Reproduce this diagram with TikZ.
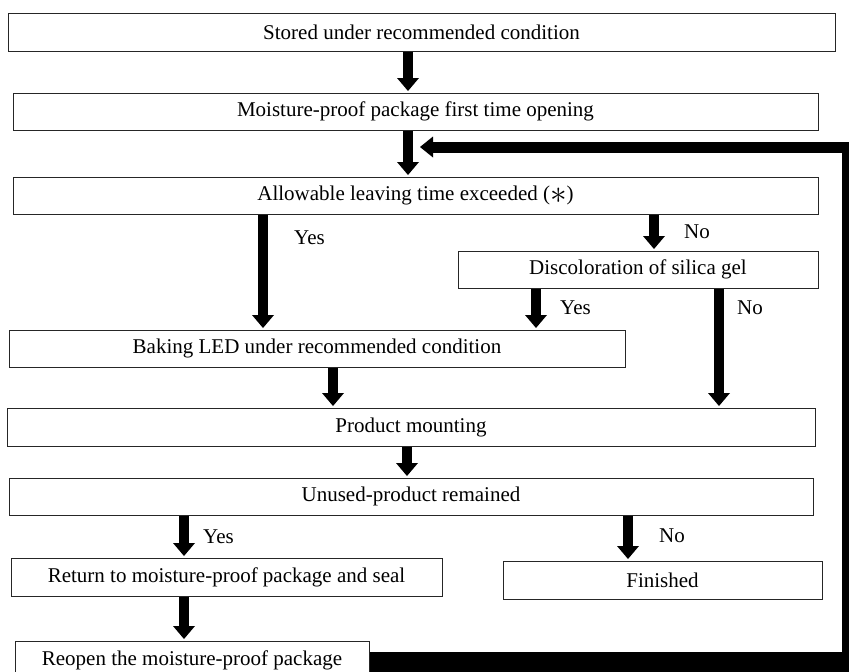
\documentclass[tikz,border=0pt]{standalone}
\usepackage{fontspec}
\setmainfont{Liberation Serif}
\usetikzlibrary{arrows.meta}
\begin{document}
\begin{tikzpicture}[x=1pt,y=-1pt,
  txt/.style={font=\fontsize{21}{25}\selectfont},
  box/.style={txt,draw=black!85,line width=1pt,rectangle,inner sep=0pt},
  lbl/.style={txt,inner sep=0pt,anchor=west},
  fat/.style={line width=10pt,-{Triangle[width=22pt,length=13pt,line width=0pt]},shorten >=1.5pt},
  loopbar/.style={line width=11pt},
]
\path[use as bounding box,clip] (0,0) rectangle (849,672);
\fill[white] (0,0) rectangle (849,672);

% boxes
\node[box,minimum width=827pt,minimum height=38pt] (stored) at (421.5,32) {Stored under recommended condition};
\node[box,minimum width=805pt,minimum height=37pt] (open) at (415.5,111.5) {Moisture-proof package first time opening};
\node[box,minimum width=805pt,minimum height=37pt] (allow) at (415.5,195.5) {Allowable leaving time exceeded (\raisebox{-0.12em}{\scalebox{1.6}{$\ast$}})};
\node[box,minimum width=360pt,minimum height=37pt] (disc) at (638,269.5) {Discoloration of silica gel};
\node[box,minimum width=616pt,minimum height=37pt] (bake) at (317,348.5) {Baking LED under recommended condition};
\node[box,minimum width=808pt,minimum height=38pt] (mount) at (411,427) {Product mounting};
\node[box,minimum width=804pt,minimum height=37pt] (unused) at (411,496.5) {Unused-product remained};
\node[box,minimum width=431pt,minimum height=38pt] (ret) at (226.5,577) {Return to moisture-proof package and seal};
\node[box,minimum width=319pt,minimum height=38pt] (fin) at (662.5,580) {Finished};
\node[box,minimum width=354pt,minimum height=38pt] (reopen) at (192,660) {Reopen the moisture-proof package};

% arrow x positions
\coordinate (xa) at (408,0);
\coordinate (xb) at (263,0);
\coordinate (xc) at (654,0);
\coordinate (xd) at (536,0);
\coordinate (xe) at (719,0);
\coordinate (xf) at (333,0);
\coordinate (xg) at (407,0);
\coordinate (xh) at (184,0);
\coordinate (xi) at (628,0);

\draw[fat] (stored.south -| xa) -- (open.north -| xa);
\draw[fat] (open.south -| xa) -- (allow.north -| xa);
\draw[fat] (allow.south -| xb) -- (bake.north -| xb);
\draw[fat] (allow.south -| xc) -- (disc.north -| xc);
\draw[fat] (disc.south -| xd) -- (bake.north -| xd);
\draw[fat] (disc.south -| xe) -- (mount.north -| xe);
\draw[fat] (bake.south -| xf) -- (mount.north -| xf);
\draw[fat] (mount.south -| xg) -- (unused.north -| xg);
\draw[fat] (unused.south -| xh) -- (ret.north -| xh);
\draw[fat] (unused.south -| xi) -- (fin.north -| xi);
\draw[fat] (ret.south -| xh) -- (reopen.north -| xh);

% labels
\node[lbl] (l1) at (294,238) {Yes};
\node[lbl] (l2) at (684,232) {No};
\node[lbl] (l3) at (560,308) {Yes};
\node[lbl] (l4) at (737,308) {No};
\node[lbl] (l5) at (203,537) {Yes};
\node[lbl] (l6) at (659,536) {No};

% loop back
\coordinate (lowr) at (854,662);
\coordinate (botr) at (847.5,680);
\coordinate (cornr) at (847.5,147);
\coordinate (loopend) at (420,147);
\draw[line width=20pt] (reopen.east |- lowr) -- (lowr);
\draw[loopbar,-{Triangle[width=21pt,length=13pt,line width=0pt]}] (botr) -- (cornr) -- (loopend);
\end{tikzpicture}
\end{document}
